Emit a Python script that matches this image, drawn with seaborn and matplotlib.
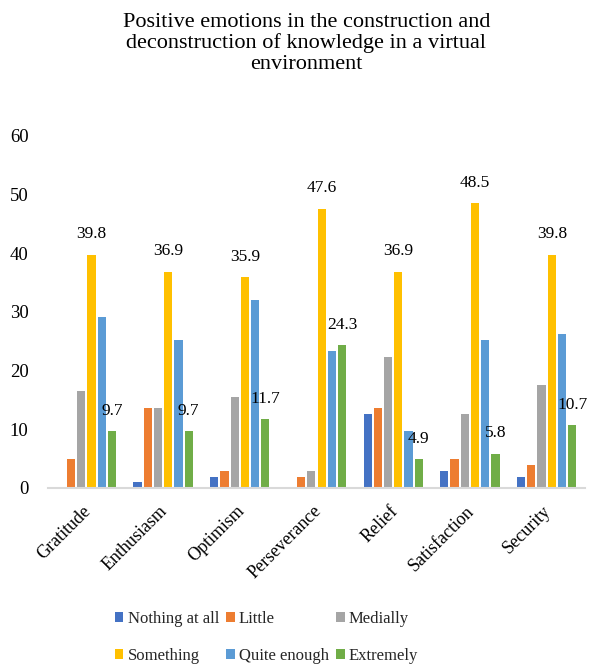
import matplotlib
matplotlib.use("Agg")
import matplotlib.pyplot as plt
from matplotlib.patches import Patch
from matplotlib.transforms import ScaledTranslation
import pandas as pd
import seaborn as sns

# Emotions surveyed (x categories)
emotions = ["Gratitude", "Enthusiasm", "Optimism", "Perseverance",
            "Relief", "Satisfaction", "Security"]

# Response levels (hue)
levels = ["Nothing at all", "Little", "Medially",
          "Something", "Quite enough", "Extremely"]

# Percentage of respondents per emotion, one list per response level
nothing_at_all = [0.0, 1.0, 1.9, 0.0, 12.6, 2.9, 1.9]
little = [4.9, 13.6, 2.9, 1.9, 13.6, 4.9, 3.9]
medially = [16.5, 13.6, 15.5, 2.9, 22.3, 12.6, 17.5]
something = [39.8, 36.9, 35.9, 47.6, 36.9, 48.5, 39.8]
quite_enough = [29.1, 25.2, 32.0, 23.3, 9.7, 25.2, 26.2]
extremely = [9.7, 9.7, 11.7, 24.3, 4.9, 5.8, 10.7]

y_ticks = [0, 10, 20, 30, 40, 50, 60]

colors = ["#4472C4", "#ED7D31", "#A5A5A5", "#FFC000", "#5B9BD5", "#70AD47"]

series = [nothing_at_all, little, medially, something, quite_enough, extremely]
df = pd.DataFrame(
    [(emo, lvl, vals[i]) for lvl, vals in zip(levels, series)
     for i, emo in enumerate(emotions)],
    columns=["emotion", "level", "percent"],
)

sns.set_theme(style="white")
plt.rcParams["font.family"] = ["Liberation Serif", "DejaVu Serif"]

fig = plt.figure(figsize=(5.9, 6.65), dpi=100)
ax = fig.add_axes([48 / 590, 1 - 488 / 665, (585 - 48) / 590, (488 - 136) / 665])

sns.barplot(data=df, x="emotion", y="percent", hue="level",
            order=emotions, hue_order=levels, palette=colors, saturation=1,
            width=0.8, gap=0.2, errorbar=None, legend=False, ax=ax,
            edgecolor="none")

# value labels on the "Something" and "Extremely" bars
for lvl in ["Something", "Extremely"]:
    cont = ax.containers[levels.index(lvl)]
    ax.bar_label(cont, fmt="%.1f", padding=9, fontsize=12.5, color="#000000")

ax.set_ylim(0, 60)
ax.set_yticks(y_ticks)
ax.set_yticklabels([str(t) for t in y_ticks], fontsize=13.5, color="#000000")
ax.set_xlim(-0.5, len(emotions) - 0.5)
ax.set_xlabel("")
ax.set_ylabel("")
ax.tick_params(axis="y", length=0, pad=14)
ax.tick_params(axis="x", length=0, pad=4)
shift = ScaledTranslation(-4 / 100, -9 / 100, fig.dpi_scale_trans)
for lab in ax.get_xticklabels():
    lab.set_rotation(45)
    lab.set_ha("right")
    lab.set_rotation_mode("anchor")
    lab.set_fontsize(13)
    lab.set_color("#000000")
    lab.set_transform(lab.get_transform() + shift)

for side in ["top", "right", "left"]:
    ax.spines[side].set_visible(False)
ax.spines["bottom"].set_color("#D9D9D9")
ax.spines["bottom"].set_linewidth(1.5)

fig.text(0.519, 1 - 13 / 665,
         "Positive emotions in the construction and\n"
         "deconstruction of knowledge in a virtual\n"
         "environment",
         ha="center", va="top", fontsize=16, linespacing=1.1, color="#000000")

# legend laid out row by row
order = [0, 3, 1, 4, 2, 5]
handles = [Patch(facecolor=colors[i], edgecolor="none") for i in order]
labels = [levels[i] for i in order]
fig.legend(handles, labels, ncol=3, frameon=False, fontsize=12,
           loc="upper left", bbox_to_anchor=(115 / 590, 1 - 611 / 665),
           borderpad=0, borderaxespad=0, handlelength=0.5, handleheight=0.5,
           handletextpad=0.25, columnspacing=0.45, labelspacing=1.25)

fig.savefig("out.png", dpi=100)
